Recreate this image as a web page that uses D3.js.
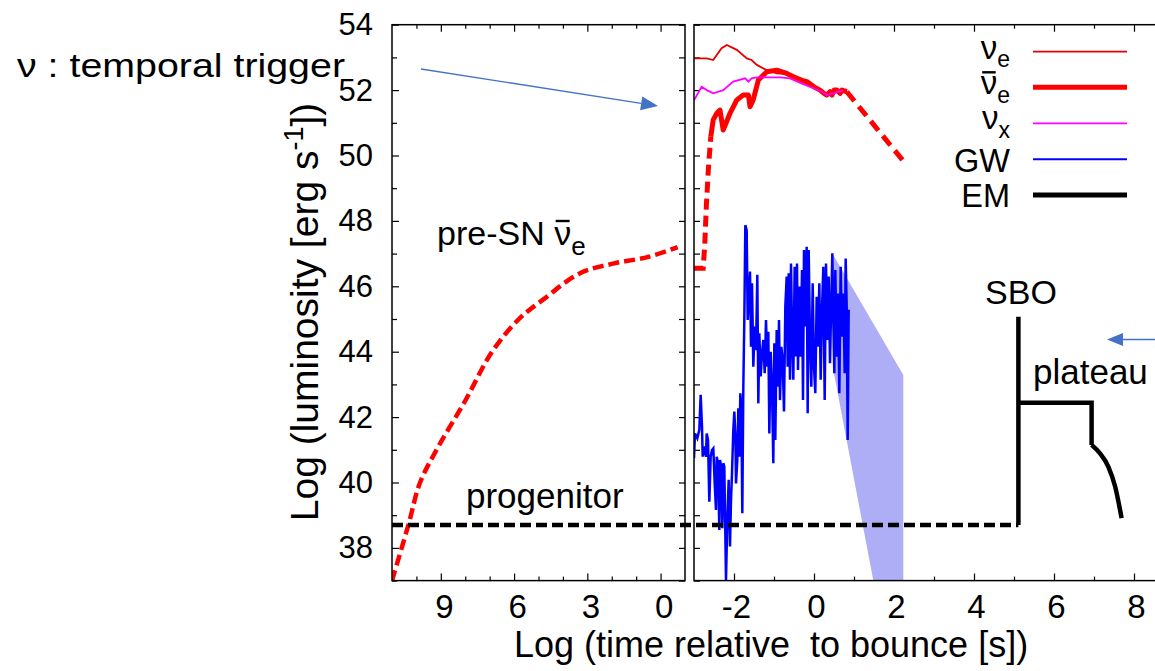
<!DOCTYPE html>
<html><head><meta charset="utf-8">
<script src="https://cdn.jsdelivr.net/npm/d3@7"></script>
<style>
body{margin:0;background:#fff}
svg{display:block}
text{font-family:"Liberation Sans",Arial,Helvetica,sans-serif;fill:#000}
</style>
</head><body>
<svg id="c" width="1155" height="671"></svg>
<script>
// ---------------- DATA ----------------
// left panel: log(time before bounce), reversed axis
const preSnX = [11, 10.33, 9.85, 9.1, 8.0, 6.9, 5.8, 4.8, 3.3, 1.9, 0.5, -0.7];
const preSnY = [37, 38.7, 40.0, 41.1, 42.5, 44.0, 45.0, 45.6, 46.4, 46.7, 46.9, 47.2];
const progenitorLevel = 38.7;
const progenitorStartLeft = 11;
const progenitorEndRight = 5.11;

// right panel
const nueX = [-3.0, -2.68, -2.52, -2.31, -2.18, -1.93, -1.68, -1.56, -1.43, -1.18, -0.93, -0.7, -0.5, -0.2, 0.1, 0.3, 0.5, 0.82];
const nueY = [52.97, 52.97, 52.92, 53.28, 53.38, 53.23, 52.97, 52.92, 52.77, 52.61, 52.51, 52.5, 52.38, 52.2, 52.0, 51.9, 51.95, 51.95];

const nuebarRiseX = [-3.0, -2.77, -2.73, -2.69, -2.64, -2.58];
const nuebarRiseY = [46.55, 46.55, 47.3, 48.5, 49.6, 50.58];
const nuebarX = [-2.58, -2.52, -2.43, -2.35, -2.27, -2.1, -1.93, -1.77, -1.64, -1.6, -1.52, -1.39, -1.18, -0.93, -0.68, -0.5, -0.3, -0.18, 0.0, 0.15, 0.25, 0.32, 0.4, 0.45, 0.5, 0.57, 0.65, 0.7, 0.82];
const nuebarY = [50.58, 51.09, 51.29, 51.39, 50.78, 51.29, 51.7, 51.85, 51.85, 51.49, 51.7, 52.31, 52.56, 52.61, 52.51, 52.4, 52.3, 52.26, 52.1, 52.0, 51.9, 51.85, 51.95, 51.85, 52.0, 52.0, 51.9, 52.0, 51.95];
const nuebarTailX = [0.82, 2.28];
const nuebarTailY = [51.95, 49.76];

const nuxX = [-3.0, -2.81, -2.68, -2.52, -2.27, -2.02, -1.72, -1.64, -1.56, -1.43, -0.85, -0.6, -0.3, 0.0, 0.2, 0.32, 0.5, 0.73];
const nuxY = [51.69, 52.1, 52.0, 51.9, 52.0, 52.26, 52.36, 52.26, 52.36, 52.39, 52.39, 52.36, 52.2, 52.05, 51.95, 51.85, 51.9, 52.0];

const gwX = [-3.0,-2.975,-2.917,-2.867,-2.833,-2.8,-2.783,-2.75,-2.7,-2.683,-2.65,-2.617,-2.583,-2.55,-2.517,-2.483,-2.45,-2.433,-2.4,-2.367,-2.35,-2.317,-2.292,-2.267,-2.242,-2.217,-2.2,-2.167,-2.133,-2.1,-2.075,-2.05,-2.017,-1.992,-1.967,-1.95,-1.917,-1.892,-1.867,-1.842,-1.817,-1.792,-1.767,-1.742,-1.717,-1.683,-1.658,-1.633,-1.6,-1.575,-1.55,-1.517,-1.483,-1.45,-1.417,-1.392,-1.367,-1.333,-1.3,-1.267,-1.233,-1.2,-1.167,-1.142,-1.117,-1.083,-1.05,-1.017,-0.992,-0.967,-0.933,-0.9,-0.875,-0.85,-0.817,-0.783,-0.75,-0.717,-0.683,-0.658,-0.633,-0.6,-0.575,-0.55,-0.517,-0.483,-0.45,-0.425,-0.4,-0.367,-0.333,-0.3,-0.275,-0.25,-0.217,-0.183,-0.158,-0.133,-0.1,-0.067,-0.033,0.0,0.033,0.067,0.1,0.133,0.167,0.2,0.233,0.267,0.3,0.333,0.367,0.4,0.433,0.458,0.483,0.508,0.533,0.567,0.6,0.633,0.667,0.7,0.733,0.767,0.792,0.817,0.842,0.867];
const gwY = [40.74,41.50,41.35,41.61,42.68,41.71,40.79,41.10,40.79,41.50,41.30,39.41,40.79,40.99,41.04,39.97,39.16,40.79,40.59,38.55,40.69,40.48,38.60,40.59,40.48,38.45,37.02,38.85,40.08,38.04,39.46,40.28,41.61,42.17,41.50,39.97,40.69,42.27,40.79,42.73,42.32,39.06,42.93,44.97,47.87,47.72,44.97,45.58,46.45,44.15,46.09,43.54,44.77,44.05,46.35,42.42,44.56,43.24,43.95,44.36,43.34,44.97,43.54,44.61,41.50,44.00,42.93,40.59,44.26,41.30,44.66,42.93,44.97,42.52,44.15,43.75,42.17,45.38,46.30,43.54,46.40,43.14,46.70,44.66,43.14,46.60,43.85,46.70,43.44,45.99,43.85,46.50,42.52,47.11,44.77,47.21,42.12,47.11,44.36,42.93,46.09,43.54,42.73,45.68,44.15,46.09,43.14,45.28,46.60,42.52,46.70,44.36,46.30,43.65,45.58,47.01,44.97,43.34,46.50,43.85,45.78,42.73,46.60,44.46,45.78,43.34,46.85,45.38,41.30,45.28];

const bandX = [0.458, 2.233, 2.233, 1.483, 0.483];
const bandY = [47.01, 43.29, 37.0, 37.0, 43.44];

const emSpikeX = [5.11, 5.11];
const emSpikeY = [38.7, 45.07];
const emPlateauX = [5.11, 6.94, 6.94];
const emPlateauY = [42.44, 42.44, 41.15];
const emDeclineX = [6.94, 7.15, 7.36, 7.53, 7.69];
const emDeclineY = [41.15, 40.89, 40.48, 39.87, 38.91];

const yMajorTicks = [38, 40, 42, 44, 46, 48, 50, 52, 54];
const yMinorTicks = [37, 39, 41, 43, 45, 47, 49, 51, 53];
const leftXMajor = [9, 6, 3, 0];
const leftXMinor = [10, 8, 7, 5, 4, 2, 1];
const rightXMajor = [-2, 0, 2, 4, 6, 8];
const rightXMinor = [-1, 1, 3, 5, 7];

// ---------------- LAYOUT ----------------
const svg = d3.select("#c");
const yTop = 24.7, yBot = 580.6;
const L = {x0: 392, x1: 685};
const R = {x0: 694, x1: 1174};
const y = d3.scaleLinear().domain([37, 54]).range([yBot, yTop]);
const xL = d3.scaleLinear().domain([11, -1]).range([L.x0, L.x1]);
const xR = d3.scaleLinear().domain([-3, 9]).range([R.x0, R.x1]);

const defs = svg.append("defs");
defs.append("clipPath").attr("id","clipL").append("rect")
  .attr("x",L.x0).attr("y",yTop).attr("width",L.x1-L.x0).attr("height",yBot-yTop);
defs.append("clipPath").attr("id","clipR").append("rect")
  .attr("x",R.x0).attr("y",yTop).attr("width",R.x1-R.x0).attr("height",yBot-yTop);

const zip = (xs, ys) => xs.map((v,i)=>[v, ys[i]]);
const lineL = (c) => d3.line().x(d=>xL(d[0])).y(d=>y(d[1])).curve(c || d3.curveLinear);
const lineR = (c) => d3.line().x(d=>xR(d[0])).y(d=>y(d[1])).curve(c || d3.curveLinear);

// ---------------- AXES / TICKS ----------------
function styleAxis(g){
  g.select(".domain").remove();
  g.selectAll(".tick line").attr("stroke","#000").attr("stroke-width",1.2);
  g.selectAll("text").attr("font-family","'Liberation Sans',Arial,sans-serif").attr("fill","#000");
}
// left panel
svg.append("g").attr("transform",`translate(${L.x0},0)`)
  .call(d3.axisLeft(y).tickValues(yMajorTicks).tickSize(-7).tickPadding(19).tickFormat(d3.format("d")))
  .call(styleAxis).selectAll("text").attr("font-size",31);
svg.append("g").attr("transform",`translate(${L.x0},0)`)
  .call(d3.axisLeft(y).tickValues(yMinorTicks).tickSize(-5).tickFormat("")).call(styleAxis);
svg.append("g").attr("transform",`translate(${L.x1},0)`)
  .call(d3.axisRight(y).tickValues(yMajorTicks.concat(yMinorTicks)).tickSize(-6).tickFormat("")).call(styleAxis);
const lb = svg.append("g").attr("transform",`translate(0,${yBot})`)
  .call(d3.axisBottom(xL).tickValues(leftXMajor).tickSize(-7).tickPadding(14).tickFormat(d3.format("d")))
  .call(styleAxis);
lb.selectAll("text").attr("font-size",33).attr("dx",3);
svg.append("g").attr("transform",`translate(0,${yBot})`)
  .call(d3.axisBottom(xL).tickValues(leftXMinor).tickSize(-4).tickFormat("")).call(styleAxis);
svg.append("g").attr("transform",`translate(0,${yTop})`)
  .call(d3.axisTop(xL).tickValues(leftXMajor).tickSize(-7).tickFormat("")).call(styleAxis);
svg.append("g").attr("transform",`translate(0,${yTop})`)
  .call(d3.axisTop(xL).tickValues(leftXMinor).tickSize(-4).tickFormat("")).call(styleAxis);
// right panel
svg.append("g").attr("transform",`translate(${R.x0},0)`)
  .call(d3.axisLeft(y).tickValues(yMajorTicks.concat(yMinorTicks)).tickSize(-6).tickFormat("")).call(styleAxis);
const rb = svg.append("g").attr("transform",`translate(0,${yBot})`)
  .call(d3.axisBottom(xR).tickValues(rightXMajor).tickSize(-7).tickPadding(14).tickFormat(d=>d<0?"-"+Math.abs(d):d))
  .call(styleAxis);
rb.selectAll("text").attr("font-size",33).attr("dx",2);
svg.append("g").attr("transform",`translate(0,${yBot})`)
  .call(d3.axisBottom(xR).tickValues(rightXMinor).tickSize(-4).tickFormat("")).call(styleAxis);
svg.append("g").attr("transform",`translate(0,${yTop})`)
  .call(d3.axisTop(xR).tickValues(rightXMajor).tickSize(-7).tickFormat("")).call(styleAxis);
svg.append("g").attr("transform",`translate(0,${yTop})`)
  .call(d3.axisTop(xR).tickValues(rightXMinor).tickSize(-4).tickFormat("")).call(styleAxis);

// ---------------- DATA MARKS ----------------
const gL = svg.append("g").attr("clip-path","url(#clipL)");
const gR = svg.append("g").attr("clip-path","url(#clipR)");

// GW band
gR.append("path").attr("d", lineR()(zip(bandX,bandY)) + "Z")
  .attr("fill","#aeaef6").attr("stroke","none");

// progenitor dashed line (spans both panels)
svg.append("line")
  .attr("x1", xL(progenitorStartLeft)).attr("x2", xR(progenitorEndRight))
  .attr("y1", y(progenitorLevel)).attr("y2", y(progenitorLevel))
  .attr("stroke","#000").attr("stroke-width",4.5).attr("stroke-dasharray","11,5");

// pre-SN anti-nu_e
gL.append("path").attr("d",lineL(d3.curveCatmullRom.alpha(0.5))(zip(preSnX,preSnY)))
  .attr("fill","none").attr("stroke","#ff0000").attr("stroke-width",4.5).attr("stroke-dasharray","11,5");

// nu_e thin
gR.append("path").attr("d",lineR()(zip(nueX,nueY)))
  .attr("fill","none").attr("stroke","#e80000").attr("stroke-width",1.8);
// anti-nu_e thick
gR.append("path").attr("d",lineR()(zip(nuebarRiseX,nuebarRiseY)))
  .attr("fill","none").attr("stroke","#ff0000").attr("stroke-width",5).attr("stroke-dasharray","11,6");
gR.append("path").attr("d",lineR()(zip(nuebarX,nuebarY)))
  .attr("fill","none").attr("stroke","#ff0000").attr("stroke-width",5).attr("stroke-linejoin","round");
gR.append("path").attr("d",lineR()(zip(nuebarTailX,nuebarTailY)))
  .attr("fill","none").attr("stroke","#ff0000").attr("stroke-width",5).attr("stroke-dasharray","12,7");
// nu_x
gR.append("path").attr("d",lineR()(zip(nuxX,nuxY)))
  .attr("fill","none").attr("stroke","#ff00ff").attr("stroke-width",1.8);
// GW
gR.append("path").attr("d",lineR()(zip(gwX,gwY)))
  .attr("fill","none").attr("stroke","#0000ff").attr("stroke-width",2.5);
// EM
gR.append("path").attr("d",lineR()(zip(emSpikeX,emSpikeY)))
  .attr("fill","none").attr("stroke","#000").attr("stroke-width",4.5);
gR.append("path").attr("d",lineR()(zip(emPlateauX,emPlateauY)))
  .attr("fill","none").attr("stroke","#000").attr("stroke-width",4.5);
gR.append("path").attr("d",lineR(d3.curveMonotoneX)(zip(emDeclineX,emDeclineY)))
  .attr("fill","none").attr("stroke","#000").attr("stroke-width",4.5);

// frames
[L,R].forEach(p=>{
  svg.append("rect").attr("x",p.x0).attr("y",yTop).attr("width",p.x1-p.x0).attr("height",yBot-yTop)
    .attr("fill","none").attr("stroke","#000").attr("stroke-width",1.5);
});

// ---------------- TEXT ----------------
function nuBar(textSel, idx, lift){
  const node = textSel.node();
  const ext = node.getExtentOfChar(idx);
  const baseY = +textSel.attr("y");
  svg.append("line").attr("x1",ext.x+1.5).attr("x2",ext.x+ext.width-1.5)
    .attr("y1",baseY-lift).attr("y2",baseY-lift)
    .attr("stroke","#000").attr("stroke-width",2.4);
}

// legend
const legendRows = [
  {main:"ν", sub:"e", bar:false, color:"#e80000", w:1.8, yy:51.7, off:7},
  {main:"ν", sub:"e", bar:true, color:"#ff0000", w:5, yy:87.3, off:7},
  {main:"ν", sub:"x", bar:false, color:"#ff00ff", w:1.8, yy:123.3, off:6},
  {main:"GW", sub:null, bar:false, color:"#0000ff", w:2, yy:159.3, off:12.5},
  {main:"EM", sub:null, bar:false, color:"#000", w:5, yy:195, off:12}
];
legendRows.forEach(r=>{
  svg.append("line").attr("x1",1033).attr("x2",1127).attr("y1",r.yy).attr("y2",r.yy)
    .attr("stroke",r.color).attr("stroke-width",r.w);
  const fs = r.sub ? 33 : 32.5;
  const t = svg.append("text").attr("x",1010).attr("y",r.yy + r.off).attr("text-anchor","end").attr("font-size",fs);
  t.append("tspan").text(r.main);
  if(r.sub) t.append("tspan").attr("dy",8.5).attr("font-size",23).text(r.sub);
  if(r.bar) nuBar(t, 0, 22);
});

// pre-SN label
const pre = svg.append("text").attr("x",437).attr("y",245).attr("font-size",34);
pre.append("tspan").text("pre-SN ");
pre.append("tspan").text("ν");
pre.append("tspan").attr("dy",10).attr("font-size",26).text("e");
nuBar(pre, 7, 24);

svg.append("text").attr("x",466).attr("y",508).attr("font-size",35).text("progenitor");
svg.append("text").attr("x",1021).attr("y",304).attr("text-anchor","middle").attr("font-size",34).text("SBO");
svg.append("text").attr("x",1033).attr("y",384).attr("font-size",35).text("plateau");

// axis titles
const yt = svg.append("text").attr("transform","translate(318,312) rotate(-90)")
  .attr("text-anchor","middle").attr("font-size",39);
yt.append("tspan").text("Log (luminosity [erg s");
yt.append("tspan").attr("dy",-15).attr("font-size",27).text("-1");
yt.append("tspan").attr("dy",15).text("])");
svg.append("text").attr("x",771).attr("y",657).attr("text-anchor","middle").attr("font-size",36)
  .attr("xml:space","preserve").style("white-space","pre").text("Log (time relative  to bounce [s])");

// annotation text
svg.append("text").attr("x",17).attr("y",77).attr("font-size",34)
  .attr("font-family","Lato,'Open Sans',sans-serif").attr("textLength",328).attr("lengthAdjust","spacingAndGlyphs")
  .text("ν : temporal trigger");

// arrows
function arrow(x1,y1,x2,y2,hl,hw){
  const c="#4472c4";
  const ang=Math.atan2(y2-y1,x2-x1);
  const bx=x2-hl*Math.cos(ang), by=y2-hl*Math.sin(ang);
  svg.append("line").attr("x1",x1).attr("y1",y1).attr("x2",bx).attr("y2",by)
    .attr("stroke",c).attr("stroke-width",1.4);
  const px=-Math.sin(ang)*hw, py=Math.cos(ang)*hw;
  svg.append("polygon").attr("points",`${x2},${y2} ${bx+px},${by+py} ${bx-px},${by-py}`).attr("fill",c);
}
arrow(421,69,658,106,17,7);
arrow(1158,339.5,1107,339.5,16,6.5);
</script>
</body></html>
